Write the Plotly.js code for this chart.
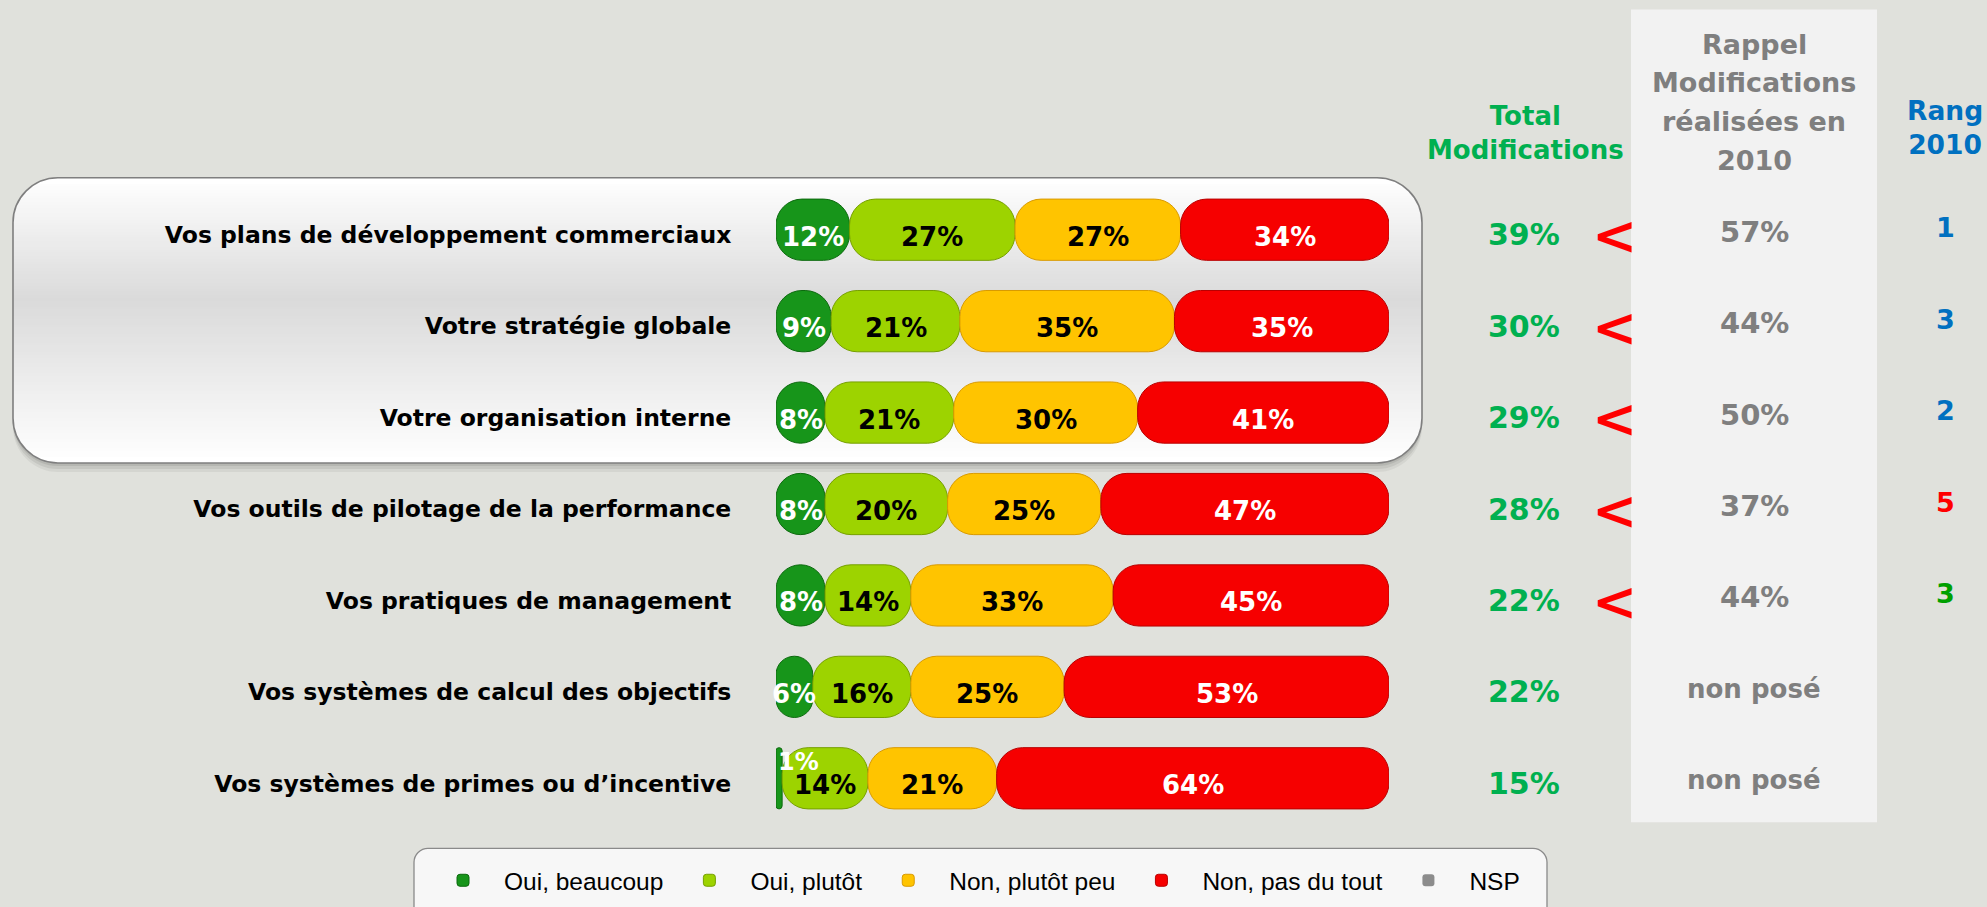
<!DOCTYPE html>
<html><head><meta charset="utf-8">
<script src="https://cdn.plot.ly/plotly-3.0.1.min.js"></script>
<style>html,body{margin:0;padding:0;background:#e0e1dc;}#chart{width:1987px;height:907px;}</style>
</head><body><div id="chart"></div>
<script>
// ---------- DATA ----------
const categories = [
  "Vos plans de développement commerciaux",
  "Votre stratégie globale",
  "Votre organisation interne",
  "Vos outils de pilotage de la performance",
  "Vos pratiques de management",
  "Vos systèmes de calcul des objectifs",
  "Vos systèmes de primes ou d’incentive"
];
const seriesNames = ["Oui, beaucoup", "Oui, plutôt", "Non, plutôt peu", "Non, pas du tout", "NSP"];
const ouiBeaucoup   = [12, 9, 8, 8, 8, 6, 1];
const ouiPlutot     = [27, 21, 21, 20, 14, 16, 14];
const nonPlutotPeu  = [27, 35, 30, 25, 33, 25, 21];
const nonPasDuTout  = [34, 35, 41, 47, 45, 53, 64];
const nsp           = [0, 0, 0, 0, 0, 0, 0];
const totalModifications = [39, 30, 29, 28, 22, 22, 15];
const rappel2010 = [57, 44, 50, 37, 44, null, null];
const rappelMissingLabel = "non posé";
const rang2010 = [1, 3, 2, 5, 3, null, null];
const headerTotal = ["Total", "Modifications"];
const headerRappel = ["Rappel", "Modifications", "réalisées en", "2010"];
const headerRang = ["Rang", "2010"];

// ---------- STYLE ----------
const series = [ouiBeaucoup, ouiPlutot, nonPlutotPeu, nonPasDuTout, nsp];
const barColors = ["#17951a", "#9dd300", "#ffc400", "#f60000", "#8c8c8c"];
const barLines  = ["#0c6a0e", "#76a000", "#d99a00", "#b80000", "#555555"];
const labelColors = ["#ffffff", "#000000", "#000000", "#ffffff", "#ffffff"];
const rangColors = ["#0070c0", "#0070c0", "#0070c0", "#ff0000", "#00a000"];
const GREEN = "#00b050", GRAY = "#7f7f7f";
const BOLD = "DejaVu Sans, Verdana, sans-serif";

// plot geometry (pixels)
const W = 1987, H = 907, L = 776, R = 1389, T = 184.3, B = 823.7;
const PX = p => (p - L) / (R - L);
const PY = p => (B - p) / (B - T);

function roundRect(x0, y0, x1, y1, r) {
  const k = 0.5523 * r;
  const P = (x, y) => PX(x).toFixed(5) + "," + PY(y).toFixed(5);
  return "M" + P(x0 + r, y0) + " L" + P(x1 - r, y0) +
    " C" + P(x1 - r + k, y0) + " " + P(x1, y0 + r - k) + " " + P(x1, y0 + r) +
    " L" + P(x1, y1 - r) +
    " C" + P(x1, y1 - r + k) + " " + P(x1 - r + k, y1) + " " + P(x1 - r, y1) +
    " L" + P(x0 + r, y1) +
    " C" + P(x0 + r - k, y1) + " " + P(x0, y1 - r + k) + " " + P(x0, y1 - r) +
    " L" + P(x0, y0 + r) +
    " C" + P(x0, y0 + r - k) + " " + P(x0 + r - k, y0) + " " + P(x0 + r, y0) + " Z";
}

// ---------- TRACES ----------
const bases = series.map(() => []);
for (let i = 0; i < categories.length; i++) {
  let acc = 0;
  for (let s = 0; s < series.length; s++) { bases[s][i] = acc; acc += series[s][i]; }
}
const traces = series.map((vals, s) => ({
  type: "bar", orientation: "h", name: seriesNames[s],
  y: categories, x: vals, base: bases[s],
  marker: { color: barColors[s],
    line: { color: barLines[s], width: vals.map(v => v > 0 ? 1 : 0) },
    cornerradius: 26 },
  hovertemplate: "%{y}<br>" + seriesNames[s] + ": %{x}%<extra></extra>"
}));

// ---------- SHAPES ----------
const shapes = [];
[[9, 0.05], [6, 0.07], [3, 0.08]].forEach(([o, a]) => shapes.push({
  type: "path", xref: "paper", yref: "paper", layer: "below",
  path: roundRect(13, 178 + o, 1422, 463 + o, 45),
  fillcolor: "rgba(0,0,0," + a + ")", line: { width: 0 }
}));
shapes.push({ type: "path", xref: "paper", yref: "paper", layer: "below",
  path: roundRect(13, 178, 1422, 463, 45), fillcolor: "#ffffff", line: { width: 0 } });
(function () {
  const x0 = 13, x1 = 1422, y0 = 178, y1 = 463, r = 45, step = 3;
  for (let y = y0; y < y1; y += step) {
    const yc = y + step / 2;
    let g = yc <= 300 ? 255 - 37 * (yc - y0) / (300 - y0) : 218 + 37 * (yc - 300) / (y1 - 300);
    g = Math.round(Math.max(218, Math.min(255, g)));
    if (g >= 254) continue;
    let inset = 0;
    if (y < y0 + r) { const d = (y0 + r) - y; inset = r - Math.sqrt(Math.max(0, r * r - d * d)); }
    if (y + step > y1 - r) { const d = (y + step) - (y1 - r); inset = Math.max(inset, r - Math.sqrt(Math.max(0, r * r - d * d))); }
    shapes.push({ type: "rect", xref: "paper", yref: "paper", layer: "below",
      x0: PX(x0 + inset), x1: PX(x1 - inset), y0: PY(y + step + 0.3), y1: PY(y),
      fillcolor: "rgb(" + g + "," + g + "," + g + ")", line: { width: 0 } });
  }
})();
shapes.push({ type: "path", xref: "paper", yref: "paper", layer: "below",
  path: roundRect(13, 178, 1422, 463, 45), fillcolor: "rgba(0,0,0,0)", line: { color: "#7f7f7f", width: 1.6 } });
shapes.push({ type: "rect", xref: "paper", yref: "paper", layer: "below",
  x0: PX(1631), x1: PX(1877), y0: PY(822), y1: PY(10), fillcolor: "#f2f2f2", line: { width: 0 } });
shapes.push({ type: "path", xref: "paper", yref: "paper", layer: "below",
  path: roundRect(414, 848, 1547, 940, 14), fillcolor: "#f7f7f7", line: { color: "#8a8a8a", width: 1.3 } });

// ---------- ANNOTATIONS ----------
const ann = [];
for (let s = 0; s < 4; s++) {
  for (let i = 0; i < categories.length; i++) {
    const v = series[s][i];
    const small = v < 3;
    ann.push({ xref: "x", yref: "y", x: small ? bases[s][i] : bases[s][i] + v / 2, y: categories[i],
      xanchor: small ? "left" : "center", yanchor: "middle", yshift: small ? 16 : -7,
      text: v + "%", showarrow: false,
      font: { family: BOLD, size: small ? 24 : 26, weight: "bold", color: labelColors[s] } });
  }
}
for (let i = 0; i < categories.length; i++) {
  ann.push({ xref: "paper", yref: "y", x: PX(1524), y: categories[i], xanchor: "center", yanchor: "middle",
    yshift: -5, showarrow: false,
    text: totalModifications[i] + "%", font: { family: BOLD, size: 30, weight: "bold", color: GREEN } });
  if (rappel2010[i] !== null && totalModifications[i] < rappel2010[i]) {
    ann.push({ xref: "paper", yref: "y", x: PX(1614), y: categories[i], xanchor: "center", yanchor: "middle",
      yshift: -6, showarrow: false,
      text: "&lt;", font: { family: BOLD, size: 54, weight: "bold", color: "#ff0000" } });
  }
  const hasR = rappel2010[i] !== null;
  ann.push({ xref: "paper", yref: "y", x: PX(1754), y: categories[i], xanchor: "center", yanchor: "middle",
    yshift: -2, showarrow: false,
    text: hasR ? rappel2010[i] + "%" : rappelMissingLabel,
    font: { family: BOLD, size: hasR ? 29 : 26, weight: "bold", color: GRAY } });
  if (rang2010[i] !== null) {
    ann.push({ xref: "paper", yref: "y", x: PX(1945), y: categories[i], xanchor: "center", yanchor: "middle",
      yshift: 2, showarrow: false,
      text: String(rang2010[i]), font: { family: BOLD, size: 27, weight: "bold", color: rangColors[i] } });
  }
}
ann.push({ xref: "paper", yref: "paper", x: PX(1525), y: PY(133), xanchor: "center", yanchor: "middle", showarrow: false,
  text: headerTotal.join("<br>"), font: { family: BOLD, size: 26, weight: "bold", color: GREEN } });
const rappelY = [45, 83, 122, 161];
headerRappel.forEach((t, k) => ann.push({ xref: "paper", yref: "paper", x: PX(1754), y: PY(rappelY[k]),
  xanchor: "center", yanchor: "middle", showarrow: false, text: t,
  font: { family: BOLD, size: 27, weight: "bold", color: GRAY } }));
ann.push({ xref: "paper", yref: "paper", x: PX(1945), y: PY(128), xanchor: "center", yanchor: "middle", showarrow: false,
  text: headerRang.join("<br>"), font: { family: BOLD, size: 26.5, weight: "bold", color: "#0070c0" } });

// ---------- LAYOUT ----------
const layout = {
  width: W, height: H, autosize: false,
  margin: { l: L, r: W - R, t: T, b: H - B, pad: 0, autoexpand: false },
  paper_bgcolor: "#e0e1dc", plot_bgcolor: "rgba(0,0,0,0)",
  barmode: "overlay", bargap: 0.33,
  xaxis: { range: [0, 100], visible: false, fixedrange: true },
  yaxis: { type: "category", categoryorder: "array", categoryarray: categories, range: [6.5, -0.5],
    showgrid: false, zeroline: false, showline: false, fixedrange: true,
    ticks: "outside", ticklen: 39, tickcolor: "rgba(0,0,0,0)", ticklabelshift: -5,
    tickfont: { family: BOLD, size: 23.5, weight: "bold", color: "#000000" } },
  showlegend: true,
  legend: { orientation: "h", x: PX(422), xanchor: "left", y: PY(880), yanchor: "middle",
    bgcolor: "rgba(0,0,0,0)", borderwidth: 0, traceorder: "normal", itemwidth: 72,
    font: { family: "Liberation Sans, Arial, sans-serif", size: 24.5, color: "#000000" } },
  shapes: shapes, annotations: ann
};
Plotly.newPlot("chart", traces, layout, { displayModeBar: false });
</script>
</body></html>
